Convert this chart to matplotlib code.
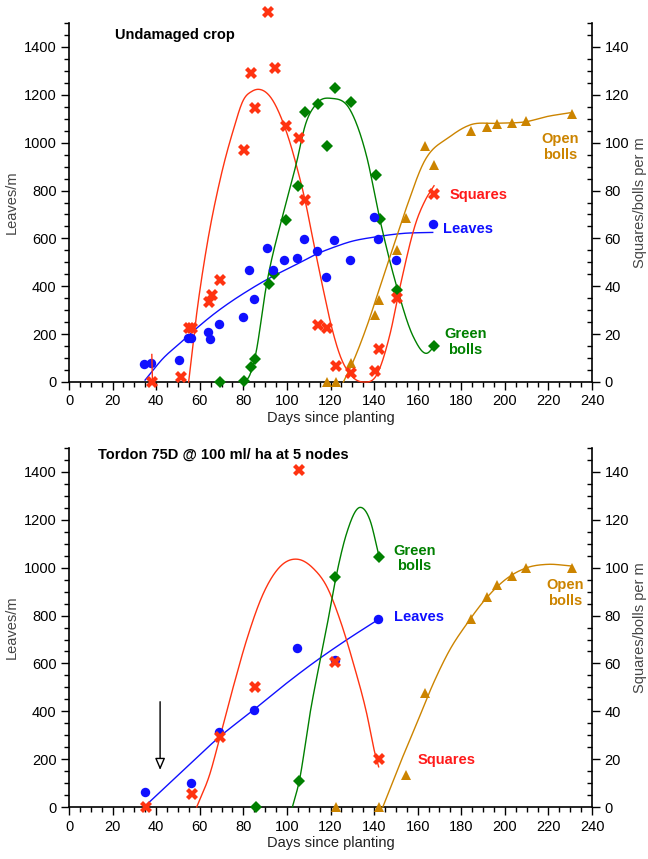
import numpy as np
import matplotlib
matplotlib.use("Agg")
import matplotlib.pyplot as plt
from matplotlib.ticker import MultipleLocator

plt.rcParams['font.family'] = ['Liberation Sans', 'DejaVu Sans']

# ---------------- data: top panel (Undamaged crop) ----------------
top_leaves_x = [34.6, 37.5, 50.6, 54.8, 55.8, 63.8, 64.9, 68.7, 79.7, 82.8, 84.8, 90.9, 93.8,
                98.7, 104.8, 107.8, 113.8, 117.8, 121.8, 129.0, 140.0, 141.8, 149.9, 166.9]
top_leaves_y = [75, 81, 90, 185, 185, 210, 180, 241, 272, 468, 345, 561, 470,
                510, 519, 596, 547, 440, 595, 508, 691, 598, 510, 659]
top_squares_x = [38.2, 51.4, 55.2, 56.4, 64.4, 65.5, 69.3, 80.2, 83.4, 85.4, 91.3, 94.5, 99.4,
                 105.4, 108.3, 114.1, 118.4, 122.6, 129.3, 140.6, 142.4, 150.4, 167.5]
top_squares_y = [0, 2, 22.5, 22.5, 33.5, 36.4, 42.8, 97, 129, 114.5, 154.5, 131, 107,
                 102, 76, 24, 22.7, 6.5, 3.6, 4.7, 13.8, 35.2, 78.4]
top_green_x = [69.4, 80.2, 83.4, 85.5, 91.6, 94.1, 99.6, 105.2, 108.5, 114.1, 118.2, 122.2,
               129.4, 140.7, 142.6, 150.5, 167.5]
top_green_y = [0, 0.5, 6.1, 9.7, 41, 45, 67.6, 82, 113, 116, 98.8, 123,
               117, 86.5, 68, 38.4, 14.9]
top_open_x = [118.5, 122.5, 129.4, 140.6, 142.4, 150.5, 154.7, 163.5, 167.5, 184.5, 191.7,
              196.6, 203.4, 209.6, 230.7]
top_open_y = [0, 0, 7.8, 28, 34.3, 55, 68.4, 98.8, 90.8, 104.7, 106.7,
              107.8, 108.4, 109, 112]

# fitted curves
top_leaves_fit_x = [34.9, 43.3, 50.9, 58.6, 66.2, 73.9, 81.5, 89.2, 96.8, 104.5, 113.7, 121.8,
                    129.0, 141.2, 153.4, 166.9]
top_leaves_fit_y = [8, 100, 162, 225, 282, 333, 378, 420, 457, 492, 535, 564,
                    586, 607, 621, 625]
top_squares_fit_x = [54.9, 58.6, 63.2, 69.3, 75.4, 80.0, 84.0, 86.9, 92.5, 98.4, 101.4, 104.5,
                     108.3, 112.5, 116.7, 120.5, 124.4, 129.7, 135.1, 141.2, 147.3, 151.9,
                     159.6, 163.5, 167.5]
top_squares_fit_y = [0, 28.7, 56.6, 84.4, 105.3, 117.8, 121.5, 122.3, 119, 108, 100, 90,
                     76, 57, 38.5, 23, 11, 2.5, 0, 3, 20, 39.8,
                     67.7, 76, 82]
top_squares_stub_x = [38.0, 38.3]
top_squares_stub_y = [11.5, 0]
top_green_fit_x = [80.8, 83.0, 85.4, 90.7, 98.3, 104.5, 108.3, 113.7, 120.6, 129.0, 136.6,
                   142.7, 150.4, 158.0, 164.2, 167.5]
top_green_fit_y = [0, 3, 10.5, 41, 70.5, 92, 107, 116.4, 118.5, 113.7, 94.2,
                   67.7, 39.8, 18.9, 12, 14.8]
top_open_fit_x = [125.9, 129.7, 136.6, 142.7, 148.8, 155.0, 162.6, 174.8, 184.0, 196.3, 210.0,
                  219.2, 229.9]
top_open_fit_y = [0, 7.1, 23.1, 39.8, 56.5, 73.3, 91.4, 102.5, 107.4, 108.1, 108.8,
                  110.9, 112.5]

# ---------------- data: bottom panel (Tordon 75D) ----------------
bot_leaves_x = [34.9, 55.8, 68.7, 84.8, 104.8, 121.9, 141.8]
bot_leaves_y = [61, 100, 312, 405, 666, 616, 786]
bot_squares_x = [35.3, 56.5, 69.3, 85.4, 105.4, 122.2, 142.3]
bot_squares_y = [0, 5.4, 29.2, 50, 141, 60.5, 20]
bot_green_x = [85.7, 105.5, 122.2, 142.4]
bot_green_y = [0, 10.8, 96, 104.5]
bot_open_x = [122.5, 142.4, 154.7, 163.5, 184.5, 191.7, 196.6, 203.4, 209.6, 230.7]
bot_open_y = [0, 0, 13.2, 47.5, 78.4, 87.6, 92.6, 96.5, 100, 100]

bot_leaves_fit_x = [34.9, 52.0, 69.3, 84.6, 97.0, 110.6, 126.0, 142.0]
bot_leaves_fit_y = [4, 150, 295, 405, 497, 592, 690, 784]
bot_squares_fit_x = [58.6, 64.7, 69.3, 75.4, 81.5, 89.2, 96.8, 105.2, 112.1, 118.3, 124.4,
                     130.5, 136.6, 140.4, 142.1]
bot_squares_fit_y = [0, 14, 29.4, 50.3, 69.8, 89.3, 100.4, 103.5, 99.7, 92.1, 78.1,
                     60, 39.1, 22.4, 16.8]
bot_green_fit_x = [102.5, 105.6, 110.6, 118.3, 122.5, 127.4, 133.5, 138.1, 142.3]
bot_green_fit_y = [0, 10.6, 39.1, 75.3, 96, 114.4, 125.2, 119.9, 104.6]
bot_open_fit_x = [144.0, 151.9, 159.6, 167.2, 174.8, 182.5, 191.7, 200.9, 210.1, 219.3, 230.7]
bot_open_fit_y = [0, 18.2, 35, 51.7, 65.8, 76.5, 87.5, 95.5, 100.0, 101.4, 100.7]

x_ticks = list(range(0, 241, 20))
left_ticks = list(range(0, 1401, 200))
right_ticks = list(range(0, 141, 20))

C_BLUE = '#1010FF'
C_RED = '#FF3311'
C_GREEN = '#008000'
C_ORANGE = '#CC8400'


def smooth(xs, ys, n=400):
    xs = np.asarray(xs, float)
    ys = np.asarray(ys, float)
    m = np.gradient(ys, xs)
    xx = np.linspace(xs[0], xs[-1], n)
    idx = np.clip(np.searchsorted(xs, xx, side='right') - 1, 0, len(xs) - 2)
    h = xs[idx + 1] - xs[idx]
    t = (xx - xs[idx]) / h
    h00 = 2 * t**3 - 3 * t**2 + 1
    h10 = t**3 - 2 * t**2 + t
    h01 = -2 * t**3 + 3 * t**2
    h11 = t**3 - t**2
    yy = h00 * ys[idx] + h10 * h * m[idx] + h01 * ys[idx + 1] + h11 * h * m[idx + 1]
    return xx, yy


fig = plt.figure(figsize=(6.48, 8.59), dpi=100)


def setup(rect):
    ax = fig.add_axes(rect)
    ax2 = ax.twinx()
    ax.set_xlim(0, 240)
    ax.set_ylim(0, 1500)
    ax2.set_ylim(0, 150)
    ax.set_xticks(x_ticks)
    ax.xaxis.set_minor_locator(MultipleLocator(5))
    ax.set_yticks(left_ticks)
    ax.yaxis.set_minor_locator(MultipleLocator(50))
    ax2.set_yticks(right_ticks)
    ax2.yaxis.set_minor_locator(MultipleLocator(5))
    for a in (ax, ax2):
        a.spines['top'].set_visible(False)
        for s in a.spines.values():
            s.set_linewidth(1.2)
    ax.spines['right'].set_visible(False)
    ax2.spines['left'].set_visible(False)
    ax2.spines['bottom'].set_visible(False)
    ax.tick_params(axis='both', which='major', direction='out', length=6, width=1,
                   labelsize=10.5, pad=3)
    ax.tick_params(axis='both', which='minor', direction='out', length=3.5, width=1)
    ax2.tick_params(axis='y', which='major', direction='out', length=6, width=1,
                    labelsize=10.5, pad=3)
    ax2.tick_params(axis='y', which='minor', direction='in', length=3.5, width=1)
    ax.set_xlabel('Days since planting', fontsize=10.5, color='#222222', labelpad=2)
    ax.set_ylabel('Leaves/m', fontsize=10.5, color='#444444')
    ax.yaxis.set_label_coords(-0.096, 0.5)
    ax2.set_ylabel('Squares/bolls per m', fontsize=10.5, color='#444444')
    ax2.yaxis.set_label_coords(1.079, 0.5)
    ax.patch.set_visible(False)
    return ax, ax2


def draw(ax, ax2, lx, ly, lfx, lfy, sx, sy, sfx, sfy, gx, gy, gfx, gfy, ox, oy, ofx, ofy):
    kw = dict(lw=1.0, clip_on=False)
    ax.plot(*smooth(lfx, lfy), color=C_BLUE, **kw)
    ax2.plot(*smooth(sfx, sfy), color=C_RED, **kw)
    ax2.plot(*smooth(gfx, gfy), color=C_GREEN, **kw)
    ax2.plot(*smooth(ofx, ofy), color=C_ORANGE, **kw)
    ax2.plot(ox, oy, '^', color=C_ORANGE, ms=7.5, mew=0, clip_on=False, ls='none')
    ax2.plot(gx, gy, 'D', color=C_GREEN, ms=6, mew=0, clip_on=False, ls='none')
    ax2.plot(lx, np.asarray(ly) / 10.0, 'o', color=C_BLUE, ms=6.8, mew=0, clip_on=False, ls='none')
    ax2.plot(sx, sy, 'X', color=C_RED, ms=8, mew=0, clip_on=False, ls='none')


# ---------- top panel ----------
ax, ax2 = setup([0.1065, 0.5553, 0.8071, 0.4179])
draw(ax, ax2, top_leaves_x, top_leaves_y, top_leaves_fit_x, top_leaves_fit_y,
     top_squares_x, top_squares_y, top_squares_fit_x, top_squares_fit_y,
     top_green_x, top_green_y, top_green_fit_x, top_green_fit_y,
     top_open_x, top_open_y, top_open_fit_x, top_open_fit_y)
ax2.plot(top_squares_stub_x, top_squares_stub_y, color=C_RED, lw=1.0, clip_on=False)
tb = dict(fontsize=10.5, fontweight='bold')
ax.text(21, 1450, 'Undamaged crop', ha='left', va='center', color='black', **tb)
ax.text(225.5, 982, 'Open\nbolls', ha='center', va='center', color=C_ORANGE, linespacing=1.15, **tb)
ax.text(174.5, 781, 'Squares', ha='left', va='center', color='#FF1A1A', **tb)
ax.text(171.5, 639, 'Leaves', ha='left', va='center', color=C_BLUE, **tb)
ax.text(182, 167, 'Green\nbolls', ha='center', va='center', color=C_GREEN, linespacing=1.15, **tb)

# ---------- bottom panel ----------
ax, ax2 = setup([0.1065, 0.0605, 0.8071, 0.4179])
draw(ax, ax2, bot_leaves_x, bot_leaves_y, bot_leaves_fit_x, bot_leaves_fit_y,
     bot_squares_x, bot_squares_y, bot_squares_fit_x, bot_squares_fit_y,
     bot_green_x, bot_green_y, bot_green_fit_x, bot_green_fit_y,
     bot_open_x, bot_open_y, bot_open_fit_x, bot_open_fit_y)
ax.text(13.3, 1471, 'Tordon 75D @ 100 ml/ ha at 5 nodes', ha='left', va='center', color='black', **tb)
ax.text(158.6, 1038, 'Green\nbolls', ha='center', va='center', color=C_GREEN, linespacing=1.15, **tb)
ax.text(149.3, 795, 'Leaves', ha='left', va='center', color=C_BLUE, **tb)
ax.text(227.6, 894, 'Open\nbolls', ha='center', va='center', color=C_ORANGE, linespacing=1.15, **tb)
ax.text(159.9, 196, 'Squares', ha='left', va='center', color='#FF1A1A', **tb)
ax.annotate('', xy=(41.8, 155), xytext=(41.8, 440),
            arrowprops=dict(arrowstyle='-|>,head_width=0.3,head_length=0.7',
                            facecolor='white', edgecolor='black', lw=1.0,
                            shrinkA=0, shrinkB=0))

fig.savefig('out.png', dpi=100)
